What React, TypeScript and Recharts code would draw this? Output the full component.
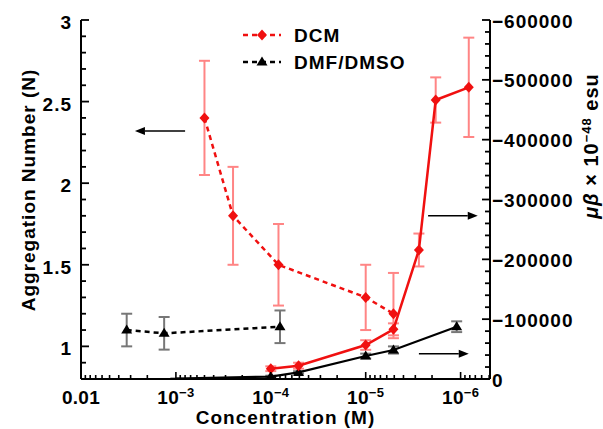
import React from 'react';
import { ComposedChart, Scatter, XAxis, YAxis, ErrorBar, ReferenceLine, Legend } from 'recharts';

const FONT = '"Liberation Sans", Arial, Helvetica, sans-serif';
const RED = '#f01010';
const PINK = '#ff8585';
const BLACK = '#000000';
const GRAY = '#777777';

// ---- DCM, aggregation number (left axis, dashed) ----
const dcmAggConc = [5e-4, 2.5e-4, 8.3e-5, 1e-5, 5.1e-6];
const dcmAggN = [2.4, 1.8, 1.5, 1.3, 1.2];
const dcmAggErrLow = [0.35, 0.3, 0.25, 0.2, 0.15];
const dcmAggErrHigh = [0.35, 0.3, 0.25, 0.2, 0.25];

// ---- DMF/DMSO, aggregation number (left axis, dashed) ----
const dmfAggConc = [3.3e-3, 1.33e-3, 8e-5];
const dmfAggN = [1.1, 1.08, 1.12];
const dmfAggErr = [0.1, 0.1, 0.1];

// ---- DCM, mu*beta (right axis, solid) ----
const dcmMbConc = [1e-4, 5.1e-5, 1e-5, 5.1e-6, 2.75e-6, 1.83e-6, 8.2e-7];
const dcmMb = [-17200, -22200, -56800, -83000, -215600, -466300, -487500];
const dcmMbErr = [4000, 5000, 8000, 10000, 27500, 37800, 83000];

// ---- DMF/DMSO, mu*beta (right axis, solid) ----
const dmfMbConc = [1e-3, 1e-4, 5.1e-5, 1e-5, 5.1e-6, 1.1e-6];
const dmfMb = [-600, -4000, -11000, -38400, -48500, -87400];
const dmfMbErr = [0, 1500, 2000, 4000, 6000, 9000];
const dmfMbNoMarkerConc = [1e-3];

// ---- legend ----
const legendNames = ['DCM', 'DMF/DMSO'];

// ---- axis ticks ----
const xDomain = [4.9e-7, 1e-2];
const xMajorTicks = [1e-2, 1e-3, 1e-4, 1e-5, 1e-6];
const xMajorBase = ['0.01', '10', '10', '10', '10'];
const xMajorExp = ['', '\u22123', '\u22124', '\u22125', '\u22126'];
const xMinorMantissas = [2, 3, 4, 5, 6, 7, 8, 9];
const xMinorDecades = [-7, -6, -5, -4, -3];

const leftDomain = [0.8, 3];
const leftMajorTicks = [1, 1.5, 2, 2.5, 3];
const leftMajorLabels = ['1', '1.5', '2', '2.5', '3'];
const leftMinorStep = 0.1;

const rightDomain = [-600000, 0];
const rightMajorTicks = [-600000, -500000, -400000, -300000, -200000, -100000, 0];
const rightMajorLabels = ['\u2212600000', '\u2212500000', '\u2212400000', '\u2212300000', '\u2212200000', '\u2212100000', '0'];
const rightMinorStep = 20000;

// ---- annotation arrows (data coordinates) ----
const arrowFromX = [8e-4, 2.2e-6, 2.75e-6];
const arrowToX = [2.7e-3, 6.6e-7, 8.2e-7];
const arrowY = [2.32, 1.8, 0.955];

// build rows
const rows = (xs: number[], ys: number[], lo: number[], hi: number[]) =>
  xs.map((x, i) => ({ x, y: ys[i], err: [lo[i], hi[i]] }));

const dcmAggData = rows(dcmAggConc, dcmAggN, dcmAggErrLow, dcmAggErrHigh);
const dmfAggData = rows(dmfAggConc, dmfAggN, dmfAggErr, dmfAggErr);
const dcmMbData = rows(dcmMbConc, dcmMb, dcmMbErr, dcmMbErr);
const dmfMbData = rows(dmfMbConc, dmfMb, dmfMbErr, dmfMbErr);

const xTicks: number[] = [...xMajorTicks];
xMinorDecades.forEach((e) => {
  xMinorMantissas.forEach((m) => {
    const v = m * Math.pow(10, e);
    if (v >= xDomain[0] * 0.999 && v <= xDomain[1]) xTicks.push(v);
  });
});

const leftTicks: number[] = [];
for (let k = 0; ; k++) {
  const v = Math.round((leftDomain[0] + k * leftMinorStep) * 10) / 10;
  if (v > leftDomain[1] + 1e-9) break;
  leftTicks.push(v);
}
const rightTicks: number[] = [];
for (let v = rightDomain[0]; v <= rightDomain[1]; v += rightMinorStep) rightTicks.push(v);

const near = (a: number, b: number) => Math.abs(a - b) <= Math.abs(b) * 1e-6 + 1e-9;

const textStyle = { fontFamily: FONT, fontWeight: 700, fontSize: 19, letterSpacing: 1 } as const;

const XTick = (props: any) => {
  const { x, y, payload } = props;
  const v = payload.value;
  const idx = xMajorTicks.findIndex((t) => near(v, t));
  const major = idx >= 0;
  return (
    <g>
      <line x1={x} x2={x} y1={y} y2={y - (major ? 7 : 4)} stroke={BLACK} strokeWidth={1.6} />
      {major && (
        <text x={x} y={y + 25} textAnchor="middle" fill={BLACK} style={{ ...textStyle, letterSpacing: 0.3 }}>
          <tspan>{xMajorBase[idx]}</tspan>
          {xMajorExp[idx] && (
            <tspan dy={-7} fontSize={13}>
              {xMajorExp[idx]}
            </tspan>
          )}
        </text>
      )}
    </g>
  );
};

const LeftTick = (props: any) => {
  const { x, y, payload } = props;
  const v = payload.value;
  const idx = leftMajorTicks.findIndex((t) => near(v, t));
  const major = idx >= 0;
  return (
    <g>
      <line x1={x} x2={x + (major ? 8 : 5)} y1={y} y2={y} stroke={BLACK} strokeWidth={1.8} />
      {major && (
        <text x={x - 9} y={y + 9} textAnchor="end" fill={BLACK} style={textStyle}>
          {leftMajorLabels[idx]}
        </text>
      )}
    </g>
  );
};

const RightTick = (props: any) => {
  const { x, y, payload } = props;
  const v = payload.value;
  const idx = rightMajorTicks.findIndex((t) => near(v, t));
  const major = idx >= 0;
  return (
    <g>
      <line x1={x} x2={x - (major ? 8 : 5)} y1={y} y2={y} stroke={BLACK} strokeWidth={1.8} />
      {major && (
        <text x={x + 2} y={y + 7.5} textAnchor="start" fill={BLACK} style={textStyle}>
          {rightMajorLabels[idx]}
        </text>
      )}
    </g>
  );
};

const diamondPath = (cx: number, cy: number) =>
  `M${cx},${cy - 5.5}L${cx + 5},${cy}L${cx},${cy + 5.5}L${cx - 5},${cy}Z`;
const trianglePath = (cx: number, cy: number) =>
  `M${cx},${cy - 5.5}L${cx + 5.5},${cy + 3.5}L${cx - 5.5},${cy + 3.5}Z`;

const DiamondShape = (color: string) => (p: any) =>
  p.cx == null ? <g /> : <path d={diamondPath(p.cx, p.cy)} fill={color} stroke="none" />;

const TriangleShape = (color: string, skip: number[] = []) => (p: any) => {
  if (p.cx == null) return <g />;
  const xv = p.payload ? p.payload.x : p.x;
  if (skip.some((s) => near(xv, s))) return <g />;
  return <path d={trianglePath(p.cx, p.cy)} fill={color} stroke="none" />;
};

const ArrowShape = (props: any) => {
  const { x1, y1, x2, y2 } = props;
  if ([x1, y1, x2, y2].some((v) => v == null || isNaN(v))) return <g />;
  const ang = Math.atan2(y2 - y1, x2 - x1);
  const L = 10;
  const W = 4;
  const bx = x2 - L * Math.cos(ang);
  const by = y2 - L * Math.sin(ang);
  const px = -Math.sin(ang) * W;
  const py = Math.cos(ang) * W;
  return (
    <g>
      <line x1={x1} y1={y1} x2={bx} y2={by} stroke={BLACK} strokeWidth={1.6} />
      <path d={`M${x2},${y2}L${bx + px},${by + py}L${bx - px},${by - py}Z`} fill={BLACK} />
    </g>
  );
};

const LegendBox = () => (
  <svg width={200} height={56} style={{ overflow: 'visible', display: 'block' }}>
    {legendNames.map((name, i) => {
      const cy = 15 + i * 27;
      const color = i === 0 ? RED : BLACK;
      return (
        <g key={name}>
          <line x1={7} x2={45} y1={cy} y2={cy} stroke={color} strokeWidth={2.5} strokeDasharray="5 4" />
          <path d={i === 0 ? diamondPath(26, cy) : trianglePath(26, cy)} fill={color} />
          <text x={58} y={cy + 7} fill={BLACK} style={textStyle}>
            {name}
          </text>
        </g>
      );
    })}
  </svg>
);

const XTitle = () => (
  <text x={285.5} y={424} textAnchor="middle" fill={BLACK} style={textStyle}>
    Concentration (M)
  </text>
);

const LeftTitle = () => (
  <text transform="translate(35,190) rotate(-90)" x={0} y={0} textAnchor="middle" fill={BLACK} style={textStyle}>
    Aggregation Number (N)
  </text>
);

const RightTitle = () => (
  <text transform="translate(598,146) rotate(-90)" x={0} y={0} textAnchor="middle" fill={BLACK} style={{ ...textStyle, fontSize: 20 }}>
    <tspan fontStyle="italic">{'\u03bc\u03b2'}</tspan>
    <tspan>{' \u00d7 10'}</tspan>
    <tspan dy={-7} fontSize={13}>
      {'\u221248'}
    </tspan>
    <tspan dy={7}>{' esu'}</tspan>
  </text>
);

export default function App() {
  return (
    <div style={{ position: 'absolute', left: 0, top: 0, background: '#fff' }}>
      <ComposedChart width={603} height={429} margin={{ top: 20, right: 0, bottom: 0, left: 0 }}>
        <XAxis
          dataKey="x"
          type="number"
          scale="log"
          domain={xDomain}
          reversed
          allowDataOverflow
          ticks={xTicks}
          interval={0}
          tick={<XTick />}
          tickLine={false}
          tickSize={0}
          tickMargin={0}
          height={50}
          axisLine={{ stroke: BLACK, strokeWidth: 2 }}
          label={() => <XTitle />}
        />
        <YAxis
          yAxisId="left"
          dataKey="y"
          type="number"
          orientation="left"
          domain={leftDomain}
          allowDataOverflow
          ticks={leftTicks}
          interval={0}
          tick={<LeftTick />}
          tickLine={false}
          tickSize={0}
          tickMargin={0}
          width={81}
          axisLine={{ stroke: BLACK, strokeWidth: 2 }}
          label={() => <LeftTitle />}
        />
        <YAxis
          yAxisId="right"
          dataKey="y"
          type="number"
          orientation="right"
          domain={rightDomain}
          reversed
          allowDataOverflow
          ticks={rightTicks}
          interval={0}
          tick={<RightTick />}
          tickLine={false}
          tickSize={0}
          tickMargin={0}
          width={113}
          axisLine={{ stroke: BLACK, strokeWidth: 2 }}
          label={() => <RightTitle />}
        />

        {arrowY.map((yv, i) => (
          <ReferenceLine
            key={'arrow' + i}
            yAxisId="left"
            segment={[
              { x: arrowFromX[i], y: yv },
              { x: arrowToX[i], y: yv },
            ]}
            ifOverflow="visible"
            shape={ArrowShape}
          />
        ))}

        <Scatter
          name="DMF/DMSO agg"
          data={dmfAggData}
          yAxisId="left"
          fill={BLACK}
          line={{ stroke: BLACK, strokeWidth: 2.5, strokeDasharray: '5 4' }}
          lineType="joint"
          shape={TriangleShape(BLACK)}
          isAnimationActive={false}
        >
          <ErrorBar dataKey="err" direction="y" width={5.5} stroke={GRAY} strokeWidth={2} />
        </Scatter>
        <Scatter
          name="DCM agg"
          data={dcmAggData}
          yAxisId="left"
          fill={RED}
          line={{ stroke: RED, strokeWidth: 2.5, strokeDasharray: '5 4' }}
          lineType="joint"
          shape={DiamondShape(RED)}
          isAnimationActive={false}
        >
          <ErrorBar dataKey="err" direction="y" width={5.5} stroke={PINK} strokeWidth={2} />
        </Scatter>
        <Scatter
          name="DMF/DMSO mb"
          data={dmfMbData}
          yAxisId="right"
          fill={BLACK}
          line={{ stroke: BLACK, strokeWidth: 2.2 }}
          lineType="joint"
          shape={TriangleShape(BLACK, dmfMbNoMarkerConc)}
          isAnimationActive={false}
        >
          <ErrorBar dataKey="err" direction="y" width={5.5} stroke={GRAY} strokeWidth={2} />
        </Scatter>
        <Scatter
          name="DCM mb"
          data={dcmMbData}
          yAxisId="right"
          fill={RED}
          line={{ stroke: RED, strokeWidth: 2.5 }}
          lineType="joint"
          shape={DiamondShape(RED)}
          isAnimationActive={false}
        >
          <ErrorBar dataKey="err" direction="y" width={5.5} stroke={PINK} strokeWidth={2} />
        </Scatter>

        <Legend
          layout="vertical"
          align="center"
          verticalAlign="middle"
          wrapperStyle={{ left: 236, top: 20, width: 200, height: 56 }}
          content={() => <LegendBox />}
        />
      </ComposedChart>
    </div>
  );
}
